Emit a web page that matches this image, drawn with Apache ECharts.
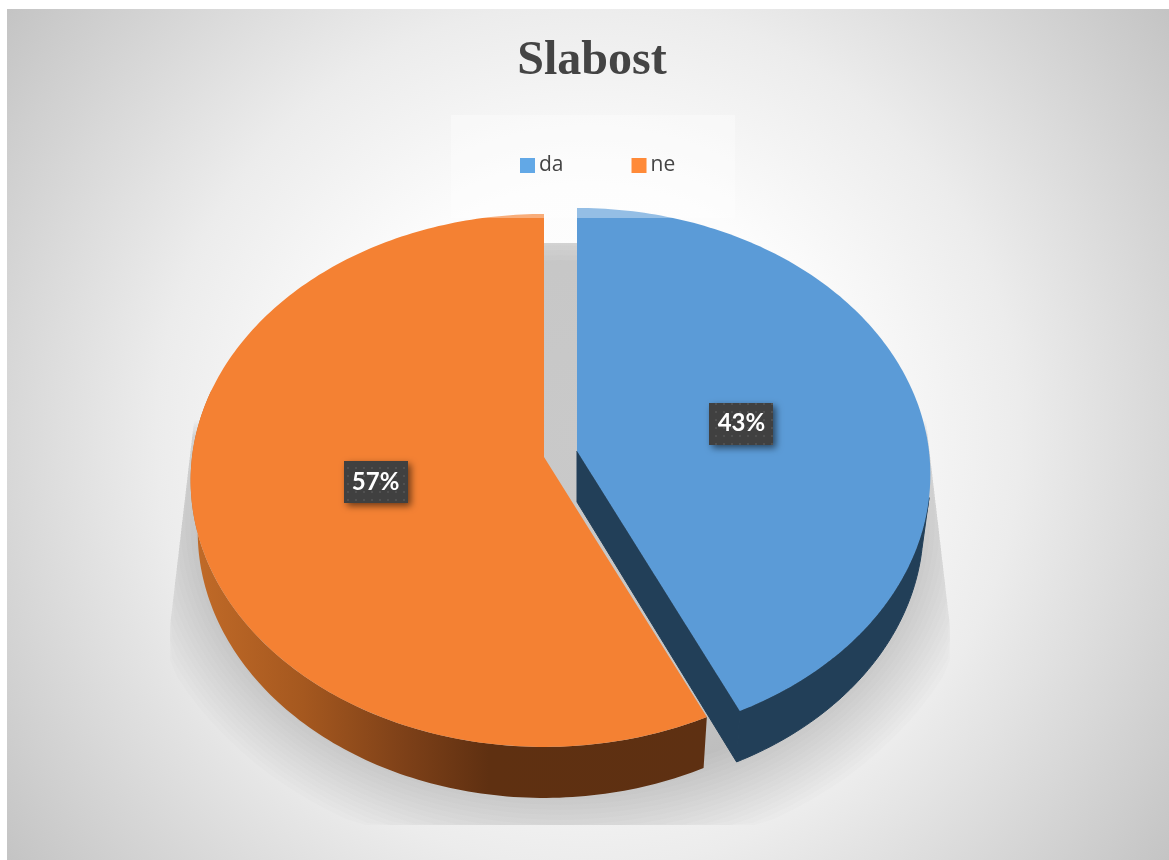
<!DOCTYPE html>
<html>
<head>
<meta charset="utf-8">
<title>Slabost</title>
<style>
  html, body { margin: 0; padding: 0; background: #fff; }
  #chart { width: 1169px; height: 860px; }
</style>
<script src="https://cdn.jsdelivr.net/npm/echarts@6/dist/echarts.min.js"></script>
</head>
<body>
<div id="chart"></div>
<script>
const categories = ['da', 'ne']
const values = [43, 57]
const labels = ['43%', '57%']
const topColors = ['#5b9bd7', '#f48133']
const legendColors = ['#62a8e6', '#ff8a38']

// pie tilt: slices are circles seen in perspective, k is the foreshortening
const K = -0.088
const SCALE_X = 352
const SCALE_Y = 264.4
const DEPTH = 51
const RIM_X = 0.98
// slice tips, the blue one is pulled out of the pie
const tips = [[577, 451], [544, 457]]
const labelNudge = [[1, 0], [-2, -3]]

const total = values.reduce((a, b) => a + b, 0)

function project(tip, angleDeg, r) {
  const a = angleDeg * Math.PI / 180
  const u = Math.sin(a) * r
  const v = -Math.cos(a) * r
  const w = 1 + K * v
  return [tip[0] + SCALE_X * u / w, tip[1] + SCALE_Y * v / w]
}

function lower(tip, p) {
  return [tip[0] + (p[0] - tip[0]) * RIM_X, p[1] + DEPTH]
}

function arc(tip, from, to) {
  const pts = []
  const n = Math.max(2, Math.ceil(Math.abs(to - from)))
  for (let i = 0; i <= n; i++) pts.push(project(tip, from + (to - from) * i / n, 1))
  return pts
}

function sliceAngles(idx) {
  let start = 0
  for (let i = 0; i < idx; i++) start += values[i] / total * 360
  return [start, start + values[idx] / total * 360]
}

// dotted dark box behind the percent labels
const patternCanvas = document.createElement('canvas')
patternCanvas.width = 8
patternCanvas.height = 8
const pctx = patternCanvas.getContext('2d')
pctx.fillStyle = '#404040'
pctx.fillRect(0, 0, 8, 8)
pctx.fillStyle = '#505050'
pctx.fillRect(3, 3, 2, 2)

function renderSlice(params, api) {
  const idx = params.seriesIndex - 1
  const tip = tips[idx]
  const [start, end] = sliceAngles(idx)
  const top = arc(tip, start, end)
  const children = []

  if (idx === 0) {
    // outer wall, then the inner cut face; the stroke hides the seam at the tip
    const visible = arc(tip, 100, end)
    const wall = visible.concat(visible.map(p => lower(tip, p)).reverse())
    const darkSide = { fill: '#223f58', stroke: '#223f58', lineWidth: 1 }
    children.push({ type: 'polygon', shape: { points: wall }, style: darkSide })
    const edge = project(tip, end, 1)
    children.push({
      type: 'polygon',
      shape: { points: [tip, edge, lower(tip, edge), [tip[0], tip[1] + DEPTH]] },
      style: darkSide
    })
  } else {
    const visible = arc(tip, start, 285)
    const wall = visible.concat(visible.map(p => lower(tip, p)).reverse())
    children.push({
      type: 'polygon',
      shape: { points: wall },
      style: {
        fill: new echarts.graphic.LinearGradient(190, 0, 705, 0, [
          { offset: 0, color: '#c26b28' },
          { offset: 0.22, color: '#a5581f' },
          { offset: 0.42, color: '#7d4018' },
          { offset: 0.58, color: '#5f3011' },
          { offset: 1, color: '#5e3012' }
        ], true)
      }
    })
  }

  children.push({
    type: 'polygon',
    shape: { points: [tip].concat(top) },
    style: { fill: topColors[idx] }
  })

  const p = project(tip, (start + end) / 2, 0.48)
  const mid = [p[0] + labelNudge[idx][0], p[1] + labelNudge[idx][1]]
  children.push({
    type: 'rect',
    shape: { x: Math.round(mid[0]) - 32, y: Math.round(mid[1]) - 21, width: 64, height: 42 },
    style: {
      fill: { image: patternCanvas, repeat: 'repeat' },
      shadowBlur: 7,
      shadowOffsetX: 3,
      shadowOffsetY: 3,
      shadowColor: 'rgba(0,0,0,0.55)'
    }
  })
  children.push({
    type: 'text',
    x: mid[0],
    y: mid[1],
    style: {
      text: labels[idx],
      fill: '#fff',
      font: 'bold 24px Lato',
      align: 'center',
      verticalAlign: 'middle'
    }
  })
  return { type: 'group', children }
}

// half width of the pie at height y, used to keep the shadow hidden up top
function pieHalfWidth(y) {
  const d = Math.min(1, Math.abs(y - 478) / 264)
  return 0.9 * 360 * Math.sqrt(1 - d * d)
}

// soft shadow under the pie, stacked ellipses cut to a trapezoid
function renderShadow() {
  const children = []
  const layers = 18
  for (let i = 0; i < layers; i++) {
    const s = i / (layers - 1)
    const rx = 430 - 85 * s
    const ry = 345 - 85 * s
    const pts = []
    for (let a = 0; a < 360; a += 3) {
      let x = 560 + rx * Math.sin(a * Math.PI / 180)
      let y = 520 - ry * Math.cos(a * Math.PI / 180)
      y = Math.min(825, Math.max(243, y))
      if (y < 420) {
        const hw = Math.max(17, pieHalfWidth(y))
        x = Math.min(561 + hw, Math.max(561 - hw, x))
      } else {
        const t = Math.min(1, (y - 420) / 205)
        x = Math.min(926 + 24 * t, Math.max(194 - 24 * t, x))
      }
      pts.push([x, y])
    }
    children.push({ type: 'polygon', shape: { points: pts }, style: { fill: 'rgba(0,0,0,0.0125)' } })
  }
  return { type: 'group', children }
}

const chart = echarts.init(document.getElementById('chart'), null, { renderer: 'canvas' })

chart.setOption({
  animation: false,
  graphic: [{
    type: 'rect',
    z: -10,
    silent: true,
    shape: { x: 7, y: 9, width: 1162, height: 851 },
    style: {
      fill: new echarts.graphic.RadialGradient(588, 435, 720, [
        { offset: 0, color: '#ffffff' },
        { offset: 0.35, color: '#fcfcfc' },
        { offset: 0.6, color: '#ececec' },
        { offset: 1, color: '#c4c4c4' }
      ], true)
    }
  }],
  title: {
    text: 'Slabost',
    left: 587,
    top: 33,
    textAlign: 'center',
    textStyle: {
      fontFamily: 'Liberation Serif',
      fontWeight: 'bold',
      fontSize: 48,
      color: '#444444'
    }
  },
  legend: {
    data: categories.map((name, i) => ({ name, itemStyle: { color: legendColors[i] } })),
    left: 451,
    top: 115,
    z: 10,
    icon: 'rect',
    itemWidth: 15,
    itemHeight: 15,
    itemGap: 68,
    padding: [40, 60, 42, 69],
    backgroundColor: 'rgba(255,255,255,0.35)',
    textStyle: { fontFamily: 'Open Sans', fontSize: 21, color: '#444444', padding: [4, 0, 0, -1] }
  },
  series: [
    { type: 'custom', name: 'shadow', coordinateSystem: 'none', silent: true, z: 1, data: [0], renderItem: renderShadow },
    { type: 'custom', name: categories[0], coordinateSystem: 'none', z: 2, data: [values[0]], renderItem: renderSlice },
    { type: 'custom', name: categories[1], coordinateSystem: 'none', z: 3, data: [values[1]], renderItem: renderSlice }
  ]
})

window.addEventListener('resize', () => chart.resize())
</script>
</body>
</html>
